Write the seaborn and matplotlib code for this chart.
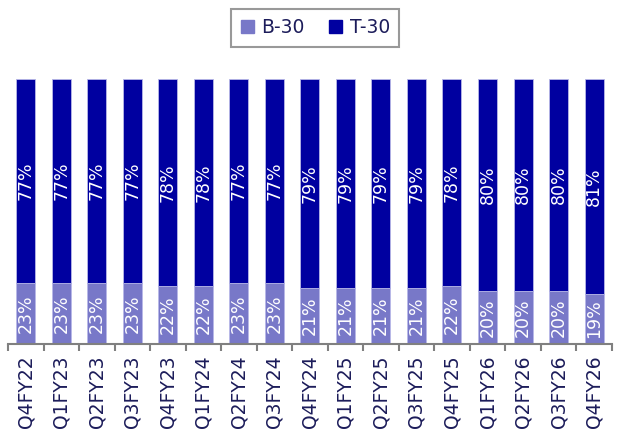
import matplotlib
matplotlib.use("Agg")
import matplotlib.pyplot as plt
import seaborn as sns
import pandas as pd
import numpy as np
from matplotlib.patches import Patch

quarters = ["Q4FY22", "Q1FY23", "Q2FY23", "Q3FY23", "Q4FY23", "Q1FY24", "Q2FY24",
            "Q3FY24", "Q4FY24", "Q1FY25", "Q2FY25", "Q3FY25", "Q4FY25", "Q1FY26",
            "Q2FY26", "Q3FY26", "Q4FY26"]
b30 = [23, 23, 23, 23, 22, 22, 23, 23, 21, 21, 21, 21, 22, 20, 20, 20, 19]
t30 = [77, 77, 77, 77, 78, 78, 77, 77, 79, 79, 79, 79, 78, 80, 80, 80, 81]

df = pd.DataFrame({"quarter": quarters, "B-30": b30, "T-30": t30})

sns.set_style("white")
plt.rcParams['font.family'] = ['DejaVu Sans']

C_B = "#7878C8"
C_T = "#0000A0"
TXT = "#1C1C5A"

fig = plt.figure(figsize=(6.18, 4.37), dpi=100)
ax = fig.add_axes([0.013, 0.213, 0.977, 0.606])

w = 0.535
sns.barplot(data=df, x="quarter", y="B-30", color=C_B, width=w, ax=ax,
            edgecolor="#B8B8E8", linewidth=0.6, saturation=1)
sns.barplot(data=df, x="quarter", y="T-30", color=C_T, width=w, ax=ax,
            bottom=df["B-30"].values, edgecolor="#B8B8E8", linewidth=0.6, saturation=1)

for cont, vals in zip(ax.containers, [b30, t30]):
    ax.bar_label(cont, labels=[f"{v}%" for v in vals], label_type="center",
                 rotation=90, color="white", fontsize=12.5)

ax.set_ylim(0, 100)
ax.set_xlim(-0.5, len(quarters) - 0.5)
ax.set_xlabel("")
ax.set_ylabel("")
ax.set_yticks([])
for s in ["top", "right", "left"]:
    ax.spines[s].set_visible(False)
ax.spines["bottom"].set_color("#808080")
ax.spines["bottom"].set_linewidth(1.5)

ax.set_xticks(range(len(quarters)))
ax.set_xticklabels(quarters, rotation=90, fontsize=13.5, color=TXT)
ax.tick_params(axis="x", which="major", length=0, pad=8)
ax.set_xticks(np.arange(-0.5, len(quarters), 1.0), minor=True)
ax.tick_params(axis="x", which="minor", length=5, width=1.5, color="#808080", bottom=True)

handles = [Patch(facecolor=C_B, edgecolor=C_B), Patch(facecolor=C_T, edgecolor=C_T)]
leg = fig.legend(handles, ["B-30", "T-30"], loc="center", bbox_to_anchor=(0.51, 0.936),
                 ncol=2, frameon=True, fontsize=13.5, handlelength=0.7, handleheight=0.7,
                 handletextpad=0.4, columnspacing=1.3, fancybox=False, borderpad=0.5)
leg.get_frame().set_edgecolor("#808080")
leg.get_frame().set_linewidth(1.5)
for t in leg.get_texts():
    t.set_color(TXT)

fig.savefig("out.png", dpi=100)
